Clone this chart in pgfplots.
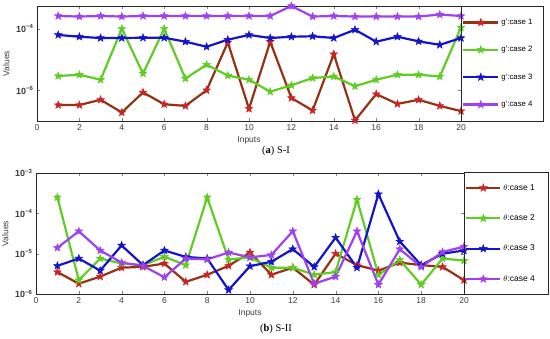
\documentclass[border=0pt]{standalone}
\usepackage{fontspec}
\setmainfont{Liberation Sans}
\newfontfamily\capfont{Liberation Serif}
\usepackage{pgfplots}
\pgfplotsset{compat=1.18}
\definecolor{c1}{RGB}{150,50,20}
\definecolor{c1m}{RGB}{205,35,35}
\definecolor{c2}{RGB}{95,205,35}
\definecolor{c3}{RGB}{20,20,205}
\definecolor{c4}{RGB}{160,65,240}
\definecolor{tickgray}{RGB}{60,60,60}
\pgfdeclareplotmark{pstar}{%
  \pgfpathmoveto{\pgfpointpolar{90}{\pgfplotmarksize}}%
  \pgfpathlineto{\pgfpointpolar{126}{0.42\pgfplotmarksize}}%
  \pgfpathlineto{\pgfpointpolar{162}{\pgfplotmarksize}}%
  \pgfpathlineto{\pgfpointpolar{198}{0.42\pgfplotmarksize}}%
  \pgfpathlineto{\pgfpointpolar{234}{\pgfplotmarksize}}%
  \pgfpathlineto{\pgfpointpolar{270}{0.42\pgfplotmarksize}}%
  \pgfpathlineto{\pgfpointpolar{306}{\pgfplotmarksize}}%
  \pgfpathlineto{\pgfpointpolar{342}{0.42\pgfplotmarksize}}%
  \pgfpathlineto{\pgfpointpolar{18}{\pgfplotmarksize}}%
  \pgfpathlineto{\pgfpointpolar{54}{0.42\pgfplotmarksize}}%
  \pgfpathclose
  \pgfusepathqfillstroke}
\begin{document}
\begin{tikzpicture}
\useasboundingbox (0,0) rectangle (550bp,339bp);
\begin{axis}[at={(37bp,218bp)}, anchor=south west, scale only axis, width=424bp, height=115bp,
  ymode=log, xmin=0, xmax=20, xtick={0,2,...,20},
  ymin=1e-7, ymax=5.5e-4, ytick={1e-6,1e-4},
  yticklabels={10\textsuperscript{−6},10\textsuperscript{−4}},
  /pgf/number format/assume math mode=true,
  tick label style={font=\fontsize{8.5}{9}\selectfont, color=tickgray},
  yticklabel style={font=\fontsize{9}{10}\selectfont\bfseries},
  label style={font=\fontsize{8.5}{9}\selectfont, color=tickgray},
  xlabel={Inputs}, ylabel={Values},
  xlabel style={yshift=1bp},
  major tick length=3bp, axis line style={color=black!85},
  yminorticks=false,
  legend style={draw=none, fill=none, at={(1,0.5)}, anchor=west,
      font=\fontsize{7.8}{9}\selectfont, row sep=16.5bp, inner sep=1bp, cells={anchor=west}},
  legend image code/.code={\draw[mark repeat=2, mark phase=2, #1] plot coordinates {(0bp,0bp) (17.5bp,0bp) (35bp,0bp)};},
  every axis plot/.append style={line width=2.2bp, mark=pstar, mark size=4bp}]
\addplot[color=c1, mark options={fill=c1m, draw=c1m, line width=0.5bp}] coordinates {(1,3.3e-7)(2,3.3e-7)(3,4.9e-7)(4,1.9e-7)(5,8.5e-7)(6,3.5e-7)(7,3.1e-7)(8,1e-6)(9,3.6e-5)(10,2.5e-7)(11,3.8e-5)(12,5.6e-7)(13,2.2e-7)(14,1.5e-5)(15,1.05e-7)(16,7.5e-7)(17,3.6e-7)(18,4.9e-7)(19,3.1e-7)(20,2.1e-7)};
\addplot[color=c2, mark options={fill=c2, draw=c2, line width=0.5bp}] coordinates {(1,2.9e-6)(2,3.2e-6)(3,2.2e-6)(4,1e-4)(5,3.5e-6)(6,1e-4)(7,2.4e-6)(8,6.8e-6)(9,3e-6)(10,2.2e-6)(11,9e-7)(12,1.45e-6)(13,2.5e-6)(14,2.8e-6)(15,1.35e-6)(16,2.2e-6)(17,3.2e-6)(18,3.2e-6)(19,2.8e-6)(20,1.1e-4)};
\addplot[color=c3, mark options={fill=c3, draw=c3, line width=0.5bp}] coordinates {(1,6.3e-5)(2,5.5e-5)(3,5e-5)(4,5e-5)(5,5.1e-5)(6,5.1e-5)(7,3.8e-5)(8,2.6e-5)(9,4.4e-5)(10,6.3e-5)(11,5e-5)(12,5.5e-5)(13,5.7e-5)(14,5e-5)(15,9.3e-5)(16,3.8e-5)(17,5.5e-5)(18,3.9e-5)(19,3e-5)(20,5e-5)};
\addplot[color=c4, mark options={fill=c4, draw=c4, line width=0.5bp}] coordinates {(1,2.6e-4)(2,2.5e-4)(3,2.6e-4)(4,2.5e-4)(5,2.6e-4)(6,2.6e-4)(7,2.6e-4)(8,2.6e-4)(9,2.6e-4)(10,2.6e-4)(11,2.6e-4)(12,5.5e-4)(13,2.5e-4)(14,2.6e-4)(15,2.5e-4)(16,2.5e-4)(17,2.5e-4)(18,2.5e-4)(19,2.9e-4)(20,2.6e-4)};
\legend{g':case 1, g':case 2, g':case 3, g':case 4}
\end{axis}
\draw[black!85] (461bp,218bp) rectangle (543bp,333bp);
\node[font=\capfont\fontsize{10.5}{12}\selectfont] at (276bp,188bp) {(\textbf{a}) S-I};
\begin{axis}[at={(36bp,45bp)}, anchor=south west, scale only axis, width=428bp, height=121bp,
  ymode=log, xmin=0, xmax=20, xtick={0,2,...,20},
  ymin=1e-6, ymax=1e-3, ytick={1e-6,1e-5,1e-4,1e-3},
  yticklabels={10\textsuperscript{−6},10\textsuperscript{−5},10\textsuperscript{−4},10\textsuperscript{−3}},
  /pgf/number format/assume math mode=true,
  tick label style={font=\fontsize{8.5}{9}\selectfont, color=tickgray},
  yticklabel style={font=\fontsize{9}{10}\selectfont\bfseries},
  label style={font=\fontsize{8.5}{9}\selectfont, color=tickgray},
  xlabel={Inputs}, ylabel={Values},
  xlabel style={yshift=1bp},
  major tick length=3bp, axis line style={color=black!85},
  yminorticks=false,
  legend style={draw=none, fill=none, at={(1,0.5)}, anchor=west,
      font=\fontsize{8.5}{9}\selectfont, row sep=19bp, inner sep=1bp, cells={anchor=west}},
  legend image code/.code={\draw[mark repeat=2, mark phase=2, #1] plot coordinates {(0bp,0bp) (17bp,0bp) (34bp,0bp)};},
  every axis plot/.append style={line width=2.2bp, mark=pstar, mark size=4bp}]
\addplot[color=c1, mark options={fill=c1m, draw=c1m, line width=0.5bp}] coordinates {(1,3.5e-6)(2,1.8e-6)(3,2.7e-6)(4,4.5e-6)(5,4.7e-6)(6,5.7e-6)(7,2e-6)(8,3e-6)(9,5e-6)(10,1.07e-5)(11,3e-6)(12,4.5e-6)(13,1.7e-6)(14,1e-5)(15,5.2e-6)(16,3.8e-6)(17,6e-6)(18,5.2e-6)(19,4.7e-6)(20,2.2e-6)};
\addplot[color=c2, mark options={fill=c2, draw=c2, line width=0.5bp}] coordinates {(1,2.5e-4)(2,2.2e-6)(3,7.6e-6)(4,5.7e-6)(5,5.2e-6)(6,8.4e-6)(7,5.2e-6)(8,2.5e-4)(9,7.2e-6)(10,8e-6)(11,4.5e-6)(12,4.5e-6)(13,3e-6)(14,3.5e-6)(15,2.2e-4)(16,3e-6)(17,7e-6)(18,1.7e-6)(19,7.6e-6)(20,6.7e-6)};
\addplot[color=c3, mark options={fill=c3, draw=c3, line width=0.5bp}] coordinates {(1,5e-6)(2,7.6e-6)(3,3.8e-6)(4,1.6e-5)(5,5.2e-6)(6,1.2e-5)(7,8.3e-6)(8,7.6e-6)(9,1.26e-6)(10,4.9e-6)(11,6.3e-6)(12,1.3e-5)(13,4.7e-6)(14,2.5e-5)(15,4.5e-6)(16,3e-4)(17,2e-5)(18,5.2e-6)(19,1e-5)(20,1.2e-5)};
\addplot[color=c4, mark options={fill=c4, draw=c4, line width=0.5bp}] coordinates {(1,1.4e-5)(2,3.6e-5)(3,1.2e-5)(4,6e-6)(5,5e-6)(6,2.6e-6)(7,7.6e-6)(8,7.2e-6)(9,1.07e-5)(10,8.1e-6)(11,9.3e-6)(12,3.6e-5)(13,1.8e-6)(14,2.7e-6)(15,3.6e-5)(16,1.7e-6)(17,1.3e-5)(18,4.7e-6)(19,1.1e-5)(20,1.5e-5)};
\legend{$\theta$:case 1, $\theta$:case 2, $\theta$:case 3, $\theta$:case 4}
\end{axis}
\draw[black!85] (464bp,45bp) rectangle (548bp,167bp);
\node[font=\capfont\fontsize{10.5}{12}\selectfont] at (276bp,10bp) {(\textbf{b}) S-II};
\end{tikzpicture}
\end{document}
